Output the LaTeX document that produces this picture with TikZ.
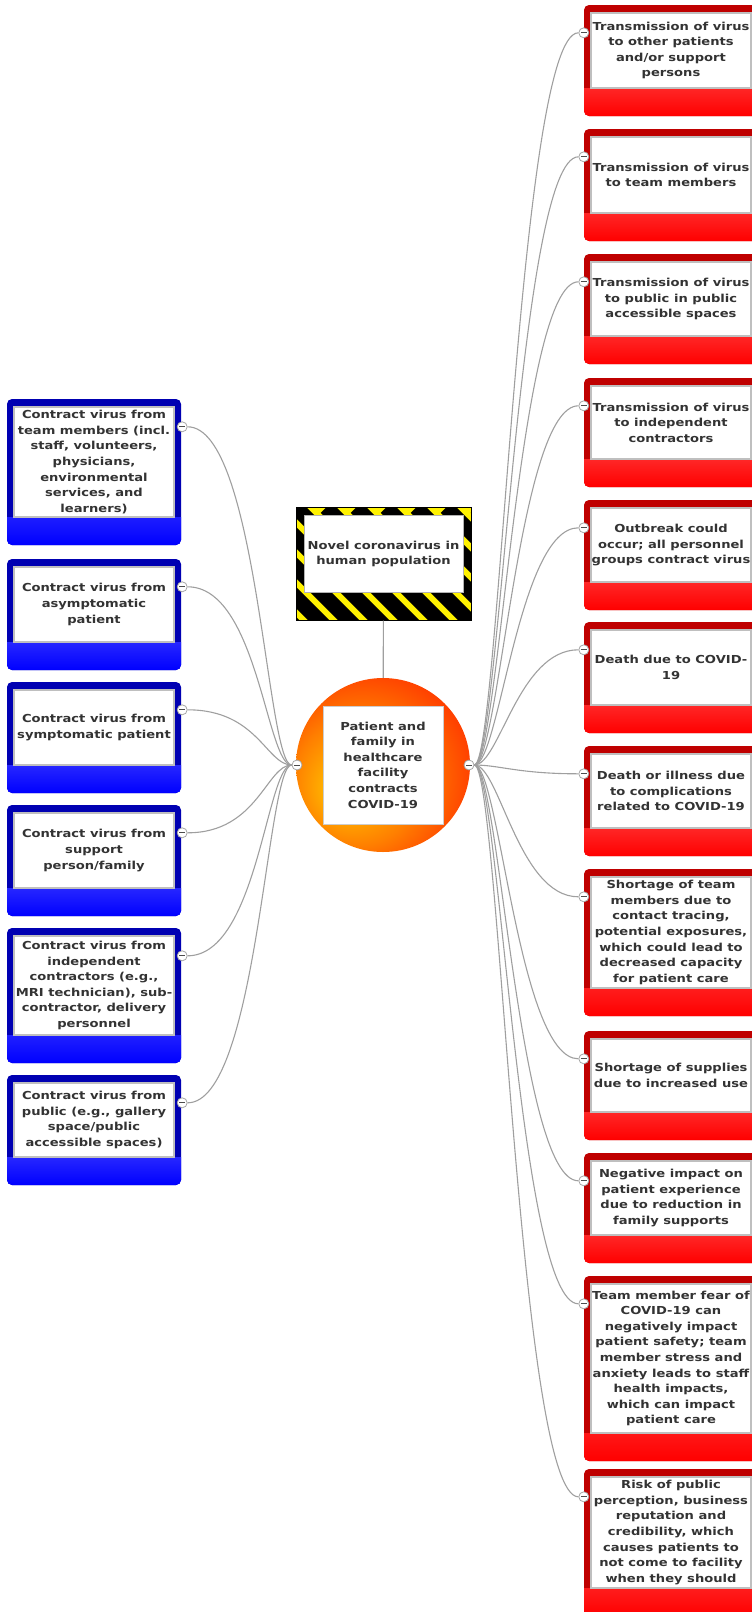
\documentclass[tikz,border=0pt]{standalone}
\usepackage{fontspec}
\newfontfamily\mapfont{DejaVu Sans}[FakeStretch=1.19]
\usetikzlibrary{positioning}

\pgfdeclareradialshading{eventball}{\pgfpoint{-12bp}{-8bp}}{%
  color(0bp)=(orange!40!yellow); color(18bp)=(orange); color(38bp)=(red!80!orange); color(50bp)=(red)}

\tikzset{
  every node/.style={inner sep=0pt},
  maptext/.style={font={\mapfont\bfseries\fontsize{11}{15.6}\selectfont}, text=black!80, align=center},
  link/.style={draw=gray!75, line width=1.1pt},
  causebox/.style={rounded corners=5pt, fill=blue!70!black, minimum width=174pt,
    path picture={
      \shade[sharp corners, top color=blue!40, bottom color=blue]
        ([yshift=28pt]path picture bounding box.south west) rectangle (path picture bounding box.south east);
      \filldraw[sharp corners, fill=white, draw=gray!50, line width=1.2pt]
        ([shift={(7pt,28pt)}]path picture bounding box.south west) rectangle ([shift={(-7pt,-8pt)}]path picture bounding box.north east);
    }},
  effectbox/.style={rounded corners=5pt, fill=red!75!black, minimum width=174pt,
    path picture={
      \shade[sharp corners, top color=red!40, bottom color=red]
        ([yshift=28pt]path picture bounding box.south west) rectangle (path picture bounding box.south east);
      \filldraw[sharp corners, fill=white, draw=gray!50, line width=1.2pt]
        ([shift={(7pt,28pt)}]path picture bounding box.south west) rectangle ([shift={(-7pt,-8pt)}]path picture bounding box.north east);
    }},
  hazardbox/.style={draw=black, fill=yellow, minimum width=175pt, minimum height=113pt,
    path picture={
      \foreach \s in {0,30,...,330}
        \draw[black, line width=15pt] ([xshift={(\s-150)*1pt}]path picture bounding box.north west) -- ++(160pt,-160pt);
      \filldraw[fill=white, draw=gray!60]
        ([shift={(8pt,28pt)}]path picture bounding box.south west) rectangle ([shift={(-8pt,-8pt)}]path picture bounding box.north east);
    }},
  eventball/.style={circle, minimum size=174pt, shade, shading=eventball},
  eventbox/.style={fill=white, draw=gray!40, minimum width=120pt, minimum height=118pt},
  port/.style={circle, minimum size=10pt, fill=white, draw=gray!70, line width=0.8pt,
    path picture={\draw[black!70, line width=0.9pt] ([xshift=-3pt]path picture bounding box.center) -- ([xshift=3pt]path picture bounding box.center);}}
}

\begin{document}
\begin{tikzpicture}[x=1pt, y=-1pt]
\useasboundingbox (0,0) rectangle (752,1612);

% central hazard and event
\node[hazardbox] (cause) at (383.5,564) {};
\node[maptext] (cause-text) at ([yshift=10pt]cause.center) {Novel coronavirus in\\human population};
\node[eventball] (event) at (383,765) {};
\node[eventbox, maptext] (event-text) at (event.center) {Patient and\\family in\\healthcare\\facility\\contracts\\COVID-19};
\draw[link] (cause) -- (event);
\node[port] (hubL) at (297,765) {};
\node[port] (hubR) at (469,765) {};

% causes (left)
\node[causebox, minimum height=146pt] (c1) at (94,472) {};
\node[causebox, minimum height=111pt] (c2) at (94,614.5) {};
\node[causebox, minimum height=111pt] (c3) at (94,737.5) {};
\node[causebox, minimum height=111pt] (c4) at (94,860.5) {};
\node[causebox, minimum height=135pt] (c5) at (94,995.5) {};
\node[causebox, minimum height=110pt] (c6) at (94,1130) {};
\node[maptext] (c1-text) at ([yshift=10pt]c1.center) {Contract virus from\\team members (incl.\\staff, volunteers,\\physicians,\\environmental\\services, and\\learners)};
\node[maptext] (c2-text) at ([yshift=10pt]c2.center) {Contract virus from\\asymptomatic\\patient};
\node[maptext] (c3-text) at ([yshift=10pt]c3.center) {Contract virus from\\symptomatic patient};
\node[maptext] (c4-text) at ([yshift=10pt]c4.center) {Contract virus from\\support\\person/family};
\node[maptext] (c5-text) at ([yshift=10pt]c5.center) {Contract virus from\\independent\\contractors (e.g.,\\MRI technician), sub-\\contractor, delivery\\personnel};
\node[maptext] (c6-text) at ([yshift=10pt]c6.center) {Contract virus from\\public (e.g., gallery\\space/public\\accessible spaces)};

% effects (right)
\node[effectbox, minimum height=111pt] (e1) at (671,60.5) {};
\node[effectbox, minimum height=112pt] (e2) at (671,185) {};
\node[effectbox, minimum height=110pt] (e3) at (671,309) {};
\node[effectbox, minimum height=109pt] (e4) at (671,432.5) {};
\node[effectbox, minimum height=110pt] (e5) at (671,555) {};
\node[effectbox, minimum height=111pt] (e6) at (671,677.5) {};
\node[effectbox, minimum height=110pt] (e7) at (671,801) {};
\node[effectbox, minimum height=147pt] (e8) at (671,942.5) {};
\node[effectbox, minimum height=109pt] (e9) at (671,1085.5) {};
\node[effectbox, minimum height=110pt] (e10) at (671,1208) {};
\node[effectbox, minimum height=185pt] (e11) at (671,1368.5) {};
\node[effectbox, minimum height=147pt] (e12) at (671,1542.5) {};
\node[maptext] (e1-text) at ([yshift=10pt]e1.center) {Transmission of virus\\to other patients\\and/or support\\persons};
\node[maptext] (e2-text) at ([yshift=10pt]e2.center) {Transmission of virus\\to team members};
\node[maptext] (e3-text) at ([yshift=10pt]e3.center) {Transmission of virus\\to public in public\\accessible spaces};
\node[maptext] (e4-text) at ([yshift=10pt]e4.center) {Transmission of virus\\to independent\\contractors};
\node[maptext] (e5-text) at ([yshift=10pt]e5.center) {Outbreak could\\occur; all personnel\\groups contract virus};
\node[maptext] (e6-text) at ([yshift=10pt]e6.center) {Death due to COVID-\\19};
\node[maptext] (e7-text) at ([yshift=10pt]e7.center) {Death or illness due\\to complications\\related to COVID-19};
\node[maptext] (e8-text) at ([yshift=10pt]e8.center) {Shortage of team\\members due to\\contact tracing,\\potential exposures,\\which could lead to\\decreased capacity\\for patient care};
\node[maptext] (e9-text) at ([yshift=10pt]e9.center) {Shortage of supplies\\due to increased use};
\node[maptext] (e10-text) at ([yshift=10pt]e10.center) {Negative impact on\\patient experience\\due to reduction in\\family supports};
\node[maptext] (e11-text) at ([yshift=10pt]e11.center) {Team member fear of\\COVID-19 can\\negatively impact\\patient safety; team\\member stress and\\anxiety leads to staff\\health impacts,\\which can impact\\patient care};
\node[maptext] (e12-text) at ([yshift=10pt]e12.center) {Risk of public\\perception, business\\reputation and\\credibility, which\\causes patients to\\not come to facility\\when they should};

% ports and connectors
\foreach \i in {1,...,6} {
  \node[port] (c\i-port) at ([shift={(1pt,-28pt)}]c\i.north east) {};
  \draw[link] (hubL.west) .. controls +(-25,0) and +(70,0) .. (c\i-port.east);
}
\foreach \i in {1,...,12} {
  \node[port] (e\i-port) at ([yshift=-28pt]e\i.north west) {};
  \draw[link] (hubR.east) .. controls +(25,0) and +(-60,0) .. (e\i-port.west);
}
\end{tikzpicture}
\end{document}
